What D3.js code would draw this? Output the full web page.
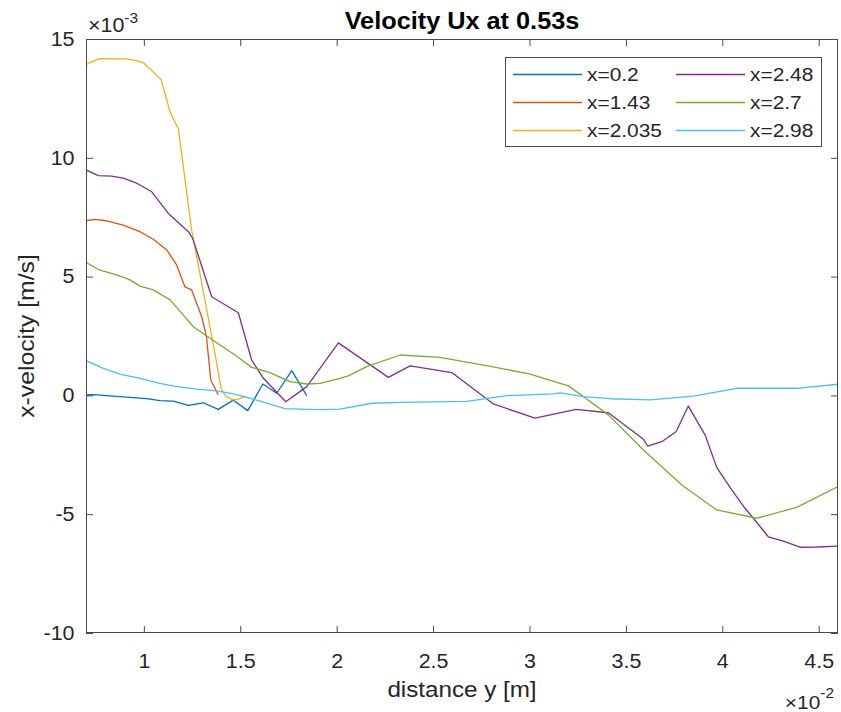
<!DOCTYPE html>
<html>
<head>
<meta charset="utf-8">
<script src="https://cdn.jsdelivr.net/npm/d3@7"></script>
<style>
  body { margin: 0; background: #fff; }
  svg { font-family: "Liberation Sans", Arial, Helvetica, sans-serif; }
</style>
</head>
<body>
<div id="chart"></div>
<script>
// distance y in units of 1e-2 m, x-velocity in units of 1e-3 m/s (as printed on the axes)
const dist_02   = [0.700, 0.738, 0.876, 1.015, 1.084, 1.153, 1.231, 1.308, 1.386, 1.464, 1.539, 1.617, 1.689, 1.767, 1.845];
const ux_02     = [0.02, 0.03, -0.05, -0.14, -0.22, -0.24, -0.42, -0.31, -0.59, -0.20, -0.64, 0.48, 0.09, 1.04, -0.01];

const dist_143  = [0.700, 0.747, 0.807, 0.893, 0.980, 1.049, 1.119, 1.170, 1.213, 1.248, 1.300, 1.325, 1.347, 1.386];
const ux_143    = [7.35, 7.41, 7.35, 7.17, 6.89, 6.57, 6.12, 5.49, 4.57, 4.44, 3.31, 2.46, 0.65, 0.02];

const dist_2035 = [0.700, 0.769, 0.907, 0.954, 0.997, 1.089, 1.136, 1.179, 1.248, 1.333, 1.374, 1.401, 1.427, 1.462, 1.496, 1.530];
const ux_2035   = [13.93, 14.17, 14.16, 14.10, 14.01, 13.30, 11.94, 11.21, 6.96, 3.31, 1.53, 0.27, -0.05, -0.19, -0.15, -0.03];

const dist_248  = [0.700, 0.764, 0.833, 0.893, 0.963, 1.041, 1.127, 1.231, 1.253, 1.352, 1.490, 1.559, 1.620, 1.736, 1.845,
                   2.009, 2.268, 2.381, 2.597, 2.813, 3.029, 3.241, 3.409, 3.591, 3.613, 3.686, 3.760, 3.824, 3.911, 3.971,
                   4.049, 4.118, 4.161, 4.239, 4.317, 4.403, 4.490, 4.600];
const ux_248    = [9.49, 9.25, 9.23, 9.14, 8.93, 8.57, 7.66, 6.89, 6.61, 4.15, 3.48, 1.49, 0.72, -0.27, 0.37,
                   2.21, 0.76, 1.24, 0.96, -0.36, -0.96, -0.59, -0.73, -1.85, -2.13, -1.95, -1.53, -0.45, -1.67, -3.03,
                   -3.98, -4.75, -5.17, -5.95, -6.13, -6.39, -6.38, -6.34];

const dist_27   = [0.700, 0.769, 0.859, 0.928, 0.980, 1.049, 1.136, 1.196, 1.257, 1.326, 1.395, 1.473, 1.559, 1.654, 1.758,
                   1.845, 1.914, 2.017, 2.060, 2.156, 2.329, 2.536, 2.804, 3.003, 3.202, 3.279, 3.409, 3.591, 3.790, 3.971,
                   4.179, 4.386, 4.600];
const ux_27     = [5.60, 5.28, 5.07, 4.86, 4.60, 4.44, 4.02, 3.46, 2.89, 2.50, 2.12, 1.70, 1.18, 0.96, 0.58,
                   0.48, 0.51, 0.72, 0.82, 1.21, 1.70, 1.60, 1.21, 0.90, 0.40, -0.05, -0.82, -2.30, -3.77, -4.82,
                   -5.17, -4.71, -3.84];

const dist_298  = [0.700, 0.790, 0.876, 0.980, 1.084, 1.170, 1.274, 1.378, 1.464, 1.551, 1.637, 1.732, 1.845, 1.931, 2.017,
                   2.182, 2.329, 2.675, 2.882, 3.124, 3.158, 3.279, 3.418, 3.625, 3.850, 4.075, 4.386, 4.600];
const ux_298    = [1.46, 1.14, 0.90, 0.72, 0.51, 0.37, 0.26, 0.19, 0.06, -0.12, -0.33, -0.56, -0.59, -0.60, -0.58,
                   -0.33, -0.29, -0.25, -0.01, 0.06, 0.11, -0.05, -0.14, -0.19, -0.03, 0.30, 0.30, 0.47];

const seriesNames  = ["x=0.2", "x=1.43", "x=2.035", "x=2.48", "x=2.7", "x=2.98"];
const seriesColors = ["#0072BD", "#D95319", "#EDB120", "#7E2F8E", "#77AC30", "#4DBEEE"];
const seriesDist   = [dist_02, dist_143, dist_2035, dist_248, dist_27, dist_298];
const seriesUx     = [ux_02, ux_143, ux_2035, ux_248, ux_27, ux_298];

const xLimits = [0.7, 4.6];
const yLimits = [-10, 15];
const xTickValues = [1, 1.5, 2, 2.5, 3, 3.5, 4, 4.5];
const yTickValues = [-10, -5, 0, 5, 10, 15];

const titleText = "Velocity Ux at 0.53s";
const xLabelText = "distance y [m]";
const yLabelText = "x-velocity [m/s]";
const xExponent = "-2";
const yExponent = "-3";

// ---------------------------------------------------------------
const W = 841, H = 712;
const margin = { top: 39, right: 3, bottom: 79, left: 86 };
const width = W - margin.left - margin.right;
const height = H - margin.top - margin.bottom;
const textColor = "#262626";
const axisColor = "#4a4a4a";
const tickLen = 7;
const stretchK = 1.1; // glyphs in the reference are a bit wider than Liberation Sans

const series = seriesNames.map((name, i) => ({
  name: name,
  color: seriesColors[i],
  points: seriesDist[i].map((d, j) => ({ x: d, y: seriesUx[i][j] }))
}));

// widen text horizontally around its own anchor
function stretch(sel) {
  sel.each(function() {
    const t = d3.select(this);
    const x = +t.attr("x") || 0, y = +t.attr("y") || 0;
    t.attr("transform", `translate(${x},${y}) scale(${stretchK},1) translate(${-x},${-y})`);
  });
}

const root = d3.select("#chart").append("svg")
  .attr("width", W)
  .attr("height", H);

root.append("rect").attr("width", W).attr("height", H).attr("fill", "#fff");

const svg = root.append("g")
  .attr("transform", `translate(${margin.left},${margin.top})`);

const x = d3.scaleLinear().domain(xLimits).range([0, width]);
const y = d3.scaleLinear().domain(yLimits).range([height, 0]);

svg.append("clipPath").attr("id", "plot-clip")
  .append("rect").attr("width", width).attr("height", height);

// lines
const line = d3.line().x(d => x(d.x)).y(d => y(d.y));
svg.append("g")
  .attr("clip-path", "url(#plot-clip)")
  .selectAll("path")
  .data(series)
  .join("path")
  .attr("fill", "none")
  .attr("stroke", d => d.color)
  .attr("stroke-width", 1.3)
  .attr("stroke-linejoin", "round")
  .attr("d", d => line(d.points));

// axes (ticks point inward, box on)
function styleAxis(g) {
  g.select(".domain").remove();
  g.selectAll(".tick line").attr("stroke", axisColor);
  g.selectAll(".tick text")
    .attr("fill", textColor)
    .style("font-size", "19.5px");
}

const xAxisG = svg.append("g")
  .attr("transform", `translate(0,${height})`)
  .call(d3.axisBottom(x).tickValues(xTickValues).tickSizeInner(-tickLen).tickSizeOuter(0)
    .tickPadding(21).tickFormat(d => String(d)))
  .call(styleAxis);
stretch(xAxisG.selectAll(".tick text"));

const yAxisG = svg.append("g")
  .call(d3.axisLeft(y).tickValues(yTickValues).tickSizeInner(-tickLen).tickSizeOuter(0)
    .tickPadding(11.5).tickFormat(d => String(d)))
  .call(styleAxis);
stretch(yAxisG.selectAll(".tick text"));

svg.append("g")
  .call(d3.axisTop(x).tickValues(xTickValues).tickSizeInner(-tickLen).tickSizeOuter(0).tickFormat(""))
  .call(styleAxis);

svg.append("g")
  .attr("transform", `translate(${width},0)`)
  .call(d3.axisRight(y).tickValues(yTickValues).tickSizeInner(-tickLen).tickSizeOuter(0).tickFormat(""))
  .call(styleAxis);

svg.append("rect")
  .attr("x", 0.5).attr("y", 0.5)
  .attr("width", width - 1).attr("height", height - 1)
  .attr("fill", "none")
  .attr("stroke", axisColor)
  .attr("stroke-width", 1);

// exponent labels
const yExp = svg.append("text")
  .attr("x", 2).attr("y", -7)
  .attr("fill", textColor)
  .style("font-size", "19.5px");
yExp.append("tspan").text("\u00d710");
yExp.append("tspan").attr("dy", -9).style("font-size", "14px").text(yExponent);
stretch(yExp);

const xExp = svg.append("text")
  .attr("x", width - 4).attr("y", height + 76)
  .attr("text-anchor", "end")
  .attr("fill", textColor)
  .style("font-size", "19px");
xExp.append("tspan").text("\u00d710");
xExp.append("tspan").attr("dy", -11).style("font-size", "14px").text(xExponent);
stretch(xExp);

// title and axis labels
const title = svg.append("text")
  .attr("x", width / 2).attr("y", -10)
  .attr("text-anchor", "middle")
  .attr("fill", "#000")
  .style("font-size", "23px")
  .style("font-weight", "bold")
  .text(titleText);
stretch(title);

const xlab = svg.append("text")
  .attr("x", width / 2).attr("y", height + 64)
  .attr("text-anchor", "middle")
  .attr("fill", textColor)
  .style("font-size", "22px")
  .text(xLabelText);
stretch(xlab);

const ylab = root.append("g")
  .attr("transform", `translate(34,${margin.top + height / 2}) rotate(-90)`)
  .append("text")
  .attr("x", 0).attr("y", 0)
  .attr("text-anchor", "middle")
  .attr("fill", textColor)
  .style("font-size", "22.5px")
  .text(yLabelText);
stretch(ylab);

// legend, two columns of three
const legend = root.append("g").attr("transform", "translate(505,57)");
legend.append("rect")
  .attr("x", 0.5).attr("y", 0.5)
  .attr("width", 316).attr("height", 89)
  .attr("fill", "#fff")
  .attr("stroke", axisColor)
  .attr("stroke-width", 1);

const item = legend.selectAll("g.item")
  .data(series)
  .join("g")
  .attr("class", "item")
  .attr("transform", (d, i) => `translate(${Math.floor(i / 3) * 163},${17.5 + (i % 3) * 28})`);

item.append("line")
  .attr("x1", 8).attr("x2", 77)
  .attr("stroke", d => d.color)
  .attr("stroke-width", 1.3);

item.append("text")
  .attr("x", 82).attr("y", 0)
  .attr("dy", "0.35em")
  .attr("fill", textColor)
  .style("font-size", "19px")
  .text(d => d.name)
  .call(stretch);
</script>
</body>
</html>
